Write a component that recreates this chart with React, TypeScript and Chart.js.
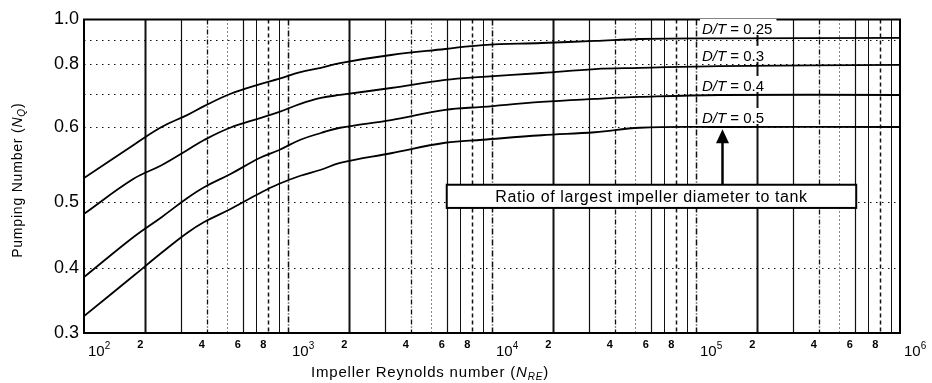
import React, { useEffect, useRef } from 'react';
import { Chart, registerables, LinearScale } from 'chart.js';

// ---------- data ----------
const RE_VALUES = [100, 175, 240, 320, 390, 520, 730, 900, 1150, 1450, 1800, 3200, 5900, 9000, 17500, 32000, 53000, 130000, 1000000];
const NQ_DT_025 = [0.532, 0.576, 0.6, 0.636, 0.664, 0.7, 0.733, 0.75, 0.773, 0.787, 0.804, 0.8375, 0.8625, 0.879, 0.8875, 0.896, 0.905, 0.908, 0.91];
const NQ_DT_030 = [0.482, 0.531, 0.549, 0.569, 0.583, 0.599, 0.627, 0.645, 0.67, 0.688, 0.697, 0.72, 0.747, 0.757, 0.77, 0.783, 0.787, 0.793, 0.797];
const NQ_DT_040 = [0.386, 0.447, 0.477, 0.505, 0.52, 0.537, 0.559, 0.569, 0.583, 0.592, 0.599, 0.621, 0.652, 0.661, 0.676, 0.685, 0.691, 0.697, 0.697];
const NQ_DT_050 = [0.326, 0.388, 0.423, 0.453, 0.47, 0.489, 0.512, 0.524, 0.535, 0.543, 0.552, 0.565, 0.579, 0.583, 0.589, 0.593, 0.599, 0.6, 0.6];
const SERIES_LABELS = ['D/T = 0.25', 'D/T = 0.3', 'D/T = 0.4', 'D/T = 0.5'];
const SERIES_VALUES = [NQ_DT_025, NQ_DT_030, NQ_DT_040, NQ_DT_050];

const Y_TICKS = [0.3, 0.4, 0.5, 0.6, 0.7, 0.8, 0.9, 1.0];
const Y_TICK_LABELS = ['0.3', '0.4', '0.5', '0.6', '', '0.8', '', '1.0'];
const X_DECADES = [2, 3, 4, 5, 6];
const X_DECADE_SUPERSCRIPTS = ['2', '3', '4', '5', '6'];
const X_MINOR_MULTIPLIERS = [2, 4, 6, 8];
const X_MIN = 100;
const X_MAX = 1000000;
const Y_MIN = 0.3;
const Y_MAX = 1.0;

const Y_TITLE = 'Pumping Number (';
const Y_TITLE_SYMBOL = 'N';
const Y_TITLE_SUB = 'Q';
const X_TITLE = 'Impeller Reynolds number (';
const X_TITLE_SYMBOL = 'N';
const X_TITLE_SUB = 'RE';
const NOTE_TEXT = 'Ratio of largest impeller diameter to tank';
// note box & arrow anchored in data units
const NOTE_X_RANGE = [6000, 610000];
const NOTE_Y_RANGE = [0.523, 0.491];
const ARROW_X = 134000;
const ARROW_TIP_Y = 0.597;
const SERIES_LABEL_X = 107000;

// ---------- warped (irregular, scanned) value axis ----------
const Y_AXIS_FRACTIONS = [0, 0.2073, 0.4179, 0.6571, 0.7624, 0.8581, 0.9346, 1];

function warp(v: number): number {
  if (v <= Y_TICKS[0]) return Y_AXIS_FRACTIONS[0];
  for (let i = 1; i < Y_TICKS.length; i++) {
    if (v <= Y_TICKS[i]) {
      const t = (v - Y_TICKS[i - 1]) / (Y_TICKS[i] - Y_TICKS[i - 1]);
      return Y_AXIS_FRACTIONS[i - 1] + t * (Y_AXIS_FRACTIONS[i] - Y_AXIS_FRACTIONS[i - 1]);
    }
  }
  return 1;
}
function unwarp(f: number): number {
  for (let i = 1; i < Y_AXIS_FRACTIONS.length; i++) {
    if (f <= Y_AXIS_FRACTIONS[i]) {
      const t = (f - Y_AXIS_FRACTIONS[i - 1]) / (Y_AXIS_FRACTIONS[i] - Y_AXIS_FRACTIONS[i - 1]);
      return Y_TICKS[i - 1] + t * (Y_TICKS[i] - Y_TICKS[i - 1]);
    }
  }
  return Y_TICKS[Y_TICKS.length - 1];
}

class WarpedScale extends LinearScale {
  static id = 'warped';
  static defaults = LinearScale.defaults;
  getPixelForValue(value: any) {
    if (value === null || value === undefined || isNaN(value)) return NaN;
    return (this as any).getPixelForDecimal(warp(value));
  }
  getValueForPixel(pixel: number) {
    return unwarp((this as any).getDecimalForPixel(pixel));
  }
}

Chart.register(...registerables, WarpedScale as any);

const FONT = '"Liberation Sans", Arial, sans-serif';

const GRID_STYLE: Record<number, { w: number; dash: number[] }> = {
  1: { w: 1.5, dash: [6, 2, 1, 2] },
  2: { w: 2, dash: [] },
  3: { w: 1.2, dash: [] },
  4: { w: 1.3, dash: [5, 2, 1, 2] },
  5: { w: 1, dash: [1, 3] },
  6: { w: 1.2, dash: [] },
  7: { w: 1, dash: [] },
  8: { w: 1.5, dash: [4, 3] },
  9: { w: 1, dash: [] },
};

const gridPlugin = {
  id: 'scanGrid',
  beforeDatasetsDraw(chart: any) {
    const { ctx, chartArea: a, scales } = chart;
    const xs = scales.x;
    const ys = scales.y;
    ctx.save();
    ctx.strokeStyle = '#111';
    for (let d = 2; d <= 5; d++) {
      for (let m = 1; m <= 9; m++) {
        const v = m * Math.pow(10, d);
        if (v <= X_MIN) continue;
        const px = Math.round(xs.getPixelForValue(v)) + 0.5;
        const st = GRID_STYLE[m];
        ctx.lineWidth = st.w;
        ctx.setLineDash(st.dash);
        ctx.beginPath();
        ctx.moveTo(px, a.top);
        ctx.lineTo(px, a.bottom);
        ctx.stroke();
      }
    }
    ctx.lineWidth = 1.2;
    ctx.setLineDash([1.5, 4.5]);
    for (const v of Y_TICKS) {
      if (v <= Y_MIN || v >= Y_MAX) continue;
      const py = Math.round(ys.getPixelForValue(v)) + 0.5;
      ctx.beginPath();
      ctx.moveTo(a.left, py);
      ctx.lineTo(a.right, py);
      ctx.stroke();
    }
    ctx.restore();
  },
};

function drawRich(ctx: CanvasRenderingContext2D, parts: { t: string; font: string; dy: number }[], x: number, y: number, align: 'left' | 'center') {
  let total = 0;
  for (const p of parts) {
    ctx.font = p.font;
    total += ctx.measureText(p.t).width;
  }
  let cx = align === 'center' ? x - total / 2 : x;
  ctx.textAlign = 'left';
  for (const p of parts) {
    ctx.font = p.font;
    ctx.fillText(p.t, cx, y + p.dy);
    cx += ctx.measureText(p.t).width;
  }
}

const overlayPlugin = {
  id: 'scanOverlay',
  afterDatasetsDraw(chart: any) {
    const { ctx, chartArea: a, scales } = chart;
    const xs = scales.x;
    const ys = scales.y;
    ctx.save();
    ctx.fillStyle = '#000';
    ctx.strokeStyle = '#000';
    ctx.setLineDash([]);

    // frame
    ctx.lineWidth = 2;
    ctx.strokeRect(a.left, a.top, a.right - a.left, a.bottom - a.top);

    // series labels
    ctx.textBaseline = 'alphabetic';
    SERIES_LABELS.forEach((lab, i) => {
      const vals = SERIES_VALUES[i];
      const lx = xs.getPixelForValue(SERIES_LABEL_X);
      const ly = ys.getPixelForValue(vals[vals.length - 1]) - 4;
      ctx.font = `italic 15px ${FONT}`;
      const w = ctx.measureText(lab).width;
      ctx.fillStyle = '#fff';
      ctx.fillRect(lx - 2, ly - 15, w + 6, 16);
      ctx.fillStyle = '#000';
      const parts = lab.split(' = ');
      drawRich(ctx, [
        { t: parts[0], font: `italic 15px ${FONT}`, dy: 0 },
        { t: ' = ' + parts[1], font: `15px ${FONT}`, dy: 0 },
      ], lx, ly, 'left');
    });

    // arrow
    const ax = Math.round(xs.getPixelForValue(ARROW_X)) + 0.5;
    const tipY = ys.getPixelForValue(ARROW_TIP_Y);
    const boxTop = ys.getPixelForValue(NOTE_Y_RANGE[0]);
    const boxBottom = ys.getPixelForValue(NOTE_Y_RANGE[1]);
    ctx.lineWidth = 2.5;
    ctx.beginPath();
    ctx.moveTo(ax, boxTop);
    ctx.lineTo(ax, tipY + 12);
    ctx.stroke();
    ctx.beginPath();
    ctx.moveTo(ax, tipY);
    ctx.lineTo(ax - 6.5, tipY + 14);
    ctx.lineTo(ax + 6.5, tipY + 14);
    ctx.closePath();
    ctx.fill();

    // note box
    const bx0 = xs.getPixelForValue(NOTE_X_RANGE[0]);
    const bx1 = xs.getPixelForValue(NOTE_X_RANGE[1]);
    ctx.fillStyle = '#fff';
    ctx.fillRect(bx0, boxTop, bx1 - bx0, boxBottom - boxTop);
    ctx.fillStyle = '#000';
    ctx.lineWidth = 2;
    ctx.strokeRect(bx0, boxTop, bx1 - bx0, boxBottom - boxTop);
    ctx.font = `16px ${FONT}`;
    ctx.textAlign = 'center';
    ctx.textBaseline = 'middle';
    (ctx as any).letterSpacing = '0.6px';
    ctx.fillText(NOTE_TEXT, (bx0 + bx1) / 2, (boxTop + boxBottom) / 2 + 1);
    (ctx as any).letterSpacing = '0px';

    // x tick labels
    ctx.textBaseline = 'alphabetic';
    X_DECADES.forEach((d, i) => {
      const px = xs.getPixelForValue(Math.pow(10, d));
      drawRich(ctx, [
        { t: '10', font: `15px ${FONT}`, dy: 0 },
        { t: X_DECADE_SUPERSCRIPTS[i], font: `10px ${FONT}`, dy: -7 },
      ], px + 4, a.bottom + 23, 'left');
    });
    ctx.font = `bold 11px ${FONT}`;
    ctx.textAlign = 'center';
    for (let d = 2; d <= 5; d++) {
      for (const m of X_MINOR_MULTIPLIERS) {
        const px = xs.getPixelForValue(m * Math.pow(10, d));
        ctx.fillText(String(m), px - 5, a.bottom + 15);
      }
    }

    // x title
    (ctx as any).letterSpacing = '0.8px';
    drawRich(ctx, [
      { t: X_TITLE, font: `15px ${FONT}`, dy: 0 },
      { t: X_TITLE_SYMBOL, font: `italic 15px ${FONT}`, dy: 0 },
      { t: X_TITLE_SUB, font: `italic 10px ${FONT}`, dy: 3 },
      { t: ')', font: `15px ${FONT}`, dy: 0 },
    ], a.left + (a.right - a.left) * 0.424, a.bottom + 44, 'center');

    // y title
    ctx.translate(22, (a.top + a.bottom) / 2 + 4);
    ctx.rotate(-Math.PI / 2);
    drawRich(ctx, [
      { t: Y_TITLE, font: `14px ${FONT}`, dy: 0 },
      { t: Y_TITLE_SYMBOL, font: `italic 14px ${FONT}`, dy: 0 },
      { t: Y_TITLE_SUB, font: `italic 10px ${FONT}`, dy: 3 },
      { t: ')', font: `14px ${FONT}`, dy: 0 },
    ], 0, 0, 'center');
    (ctx as any).letterSpacing = '0px';
    ctx.restore();
  },
};

export default function App() {
  const ref = useRef<HTMLCanvasElement | null>(null);
  useEffect(() => {
    if (!ref.current) return;
    const chart = new Chart(ref.current, {
      type: 'line',
      data: {
        datasets: SERIES_VALUES.map((vals, i) => ({
          label: SERIES_LABELS[i],
          data: RE_VALUES.map((x, j) => ({ x, y: vals[j] })),
          borderColor: '#000',
          borderWidth: 1.8,
          pointRadius: 0,
          fill: false,
          tension: 0.4,
        })),
      },
      options: {
        animation: false,
        responsive: false,
        devicePixelRatio: 1,
        layout: { padding: { top: 19.5, right: 32, left: 0, bottom: 0 } },
        plugins: { legend: { display: false }, tooltip: { enabled: false } },
        scales: {
          x: {
            type: 'logarithmic',
            min: X_MIN,
            max: X_MAX,
            grid: { display: false, drawTicks: false },
            border: { display: false },
            ticks: { display: false },
            afterFit: (s: any) => { s.height = 50; },
          },
          y: {
            type: 'warped' as any,
            min: Y_MIN,
            max: Y_MAX,
            grid: { display: false, drawTicks: false },
            border: { display: false },
            afterBuildTicks: (s: any) => { s.ticks = Y_TICKS.map((v) => ({ value: v })); },
            ticks: {
              autoSkip: false,
              padding: 5,
              color: '#000',
              font: { size: 18, family: FONT },
              callback: (_v: any, i: number) => Y_TICK_LABELS[i],
            },
            afterFit: (s: any) => { s.width = 84; },
          },
        } as any,
      },
      plugins: [gridPlugin, overlayPlugin],
    } as any);
    return () => chart.destroy();
  }, []);
  return (
    <div style={{ position: 'fixed', left: 0, top: 0, width: 932, height: 383, background: '#fff' }}>
      <canvas ref={ref} width={932} height={383} style={{ display: 'block' }} />
    </div>
  );
}
